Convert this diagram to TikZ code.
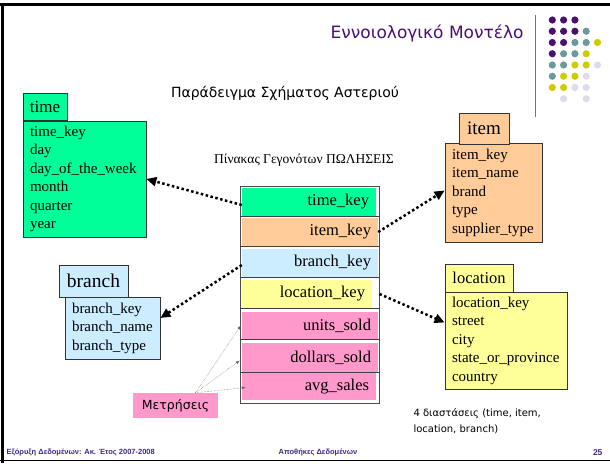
\documentclass[tikz,border=0pt]{standalone}
\usepackage{fontspec}
\setmainfont{Liberation Serif}
\setsansfont{DejaVu Sans}
\newfontfamily\footfont{Liberation Sans}
\usetikzlibrary{arrows.meta}
\definecolor{titlepurple}{HTML}{4B0F73}
\definecolor{footpurple}{HTML}{3F2A7F}
\definecolor{dotpurple}{HTML}{4A1070}
\definecolor{dotteal}{HTML}{6A9A9A}
\definecolor{dotyellow}{HTML}{CCCC00}
\definecolor{dotlilac}{HTML}{DCDCEE}
\definecolor{timegreen}{HTML}{00FF99}
\definecolor{itemorange}{HTML}{FFCC99}
\definecolor{branchblue}{HTML}{CCECFF}
\definecolor{locyellow}{HTML}{FFFF99}
\definecolor{measurepink}{HTML}{FF99CC}
\begin{document}
\begin{tikzpicture}[x=1pt,y=-1pt,
  head/.style={rectangle,draw=black!80,line width=0.8pt,inner sep=0pt,font=\fontsize{18}{20}\selectfont},
  dimbody/.style={rectangle,draw=black!80,line width=0.8pt,inner xsep=7pt,inner ysep=0pt,align=left,font=\fontsize{15}{18.5}\selectfont},
  factrow/.style={rectangle,inner xsep=7pt,inner ysep=0pt,align=right,font=\fontsize{16.5}{18}\selectfont},
  link/.style={line width=2.5pt,dash pattern=on 2.5pt off 2.5pt,-{Triangle[length=10pt,width=9pt]}},
  measure/.style={black!60,line width=0.45pt,densely dotted,-{Latex[length=4pt,width=3pt]}}]
\useasboundingbox (0,0) rectangle (610,463);

% slide frame and logo
\draw[line width=3pt] (0,4.5) -- (610,4.5);
\draw[line width=2.5pt] (2.5,4) -- (2.5,463);
\draw[line width=0.8pt] (0,460.5) -- (610,460.5);
\draw[black!55,line width=1.5pt] (535.5,15) -- (535.5,117);
\foreach \c/\r/\col in {0/0/dotpurple,1/0/dotpurple,2/0/dotpurple,
  0/1/dotpurple,1/1/dotpurple,2/1/dotpurple,3/1/dotteal,
  0/2/dotpurple,1/2/dotpurple,2/2/dotteal,3/2/dotteal,4/2/dotyellow,
  0/3/dotpurple,1/3/dotteal,2/3/dotteal,3/3/dotyellow,
  0/4/dotteal,1/4/dotteal,2/4/dotyellow,3/4/dotyellow,4/4/dotlilac,
  0/5/dotteal,1/5/dotyellow,2/5/dotyellow,3/5/dotlilac,
  0/6/dotyellow,1/6/dotyellow,2/6/dotlilac,3/6/dotlilac,
  1/7/dotlilac,3/7/dotlilac}
  \fill[\col] (552.3+11.3*\c,20+11.25*\r) circle (3.6);

\node[anchor=east,text=titlepurple,font=\sffamily\fontsize{17}{20}\selectfont] (title) at (527,33) {Εννοιολογικό Μοντέλο};
\node[font=\sffamily\fontsize{14}{16}\selectfont] (subtitle) at (285,93) {Παράδειγμα Σχήματος Αστεριού};

% dimension tables
\node[dimbody,fill=timegreen,text width=109pt,minimum height=116pt] (timebody) at (84.5,179)
  {time\_key\\day\\day\_of\_the\_week\\month\\quarter\\year};
\node[head,fill=timegreen,minimum width=44pt,minimum height=27pt,font=\fontsize{17}{20}\selectfont] (timehead) at (45,106.5) {time};

\node[dimbody,fill=itemorange,text width=83pt,minimum height=99pt] (itembody) at (493.5,192.5)
  {item\_key\\item\_name\\brand\\type\\supplier\_type};
\node[head,fill=itemorange,minimum width=50pt,minimum height=31pt,font=\fontsize{19}{21}\selectfont] (itemhead) at (484,128.5) {item};

\node[dimbody,fill=branchblue,text width=81pt,minimum height=62pt] (branchbody) at (112.5,328)
  {branch\_key\\branch\_name\\branch\_type};
\node[head,fill=branchblue,minimum width=69pt,minimum height=32pt,font=\fontsize{19.5}{21}\selectfont] (branchhead) at (93.5,281) {branch};

\node[dimbody,fill=locyellow,text width=108pt,minimum height=97pt] (locationbody) at (506,340.5)
  {location\_key\\street\\city\\state\_or\_province\\country};
\node[head,fill=locyellow,minimum width=68pt,minimum height=28pt,font=\fontsize{16.5}{19}\selectfont] (locationhead) at (479,278) {location};

% fact table
\node[font=\fontsize{13.5}{15}\selectfont] (facttitle) at (304,160) {Πίνακας Γεγονότων ΠΩΛΗΣΕΙΣ};
\node[factrow,fill=timegreen,text width=120pt,minimum height=28pt] (timekey) at (309,202) {time\_key};
\node[factrow,fill=itemorange,text width=122pt,minimum height=28pt] (itemkey) at (310,232) {item\_key};
\node[factrow,fill=branchblue,text width=122pt,minimum height=28pt] (branchkey) at (310,263) {branch\_key};
\node[factrow,fill=locyellow,text width=116pt,minimum height=28pt] (locationkey) at (307,294) {location\_key};
\node[factrow,fill=measurepink,text width=122pt,minimum height=27pt] (unitssold) at (310,325.5) {units\_sold};
\node[factrow,fill=measurepink,text width=122pt,minimum height=29pt] (dollarssold) at (310,357.5) {dollars\_sold};
\node[factrow,fill=measurepink,text width=120pt,minimum height=27pt] (avgsales) at (309,386.5) {avg\_sales};
\node[rectangle,draw=black!70,line width=1pt,minimum width=139pt,minimum height=217pt] (fact) at (309.5,294.5) {};
\foreach \r in {timekey,itemkey,branchkey,locationkey,unitssold,dollarssold}
  \draw[black!75,line width=1.2pt] (\r.south -| fact.west) -- (\r.south -| fact.east);

% foreign keys
\draw[link] ([yshift=-3pt]timekey.west) -- (timebody.east);
\draw[link] (itemkey.east) -- ([yshift=2pt]itembody.west);
\draw[link] ([yshift=-2pt]branchkey.west) -- ([yshift=10pt]branchbody.east);
\draw[link] (fact.east |- locationkey) -- ([yshift=18pt]locationbody.west);

% measures
\node[fill=measurepink,minimum width=85pt,minimum height=25pt,inner sep=0pt,font=\sffamily\fontsize{12.5}{14}\selectfont] (measures) at (175.5,405.5) {Μετρήσεις};
\draw[measure] ([xshift=20pt]measures.north) -- ([xshift=-1pt]unitssold.west);
\draw[measure] ([xshift=20pt]measures.north) -- ([xshift=-2pt,yshift=-3pt]dollarssold.west);
\draw[measure] ([xshift=20pt]measures.north) -- ([xshift=4pt,yshift=-1pt]avgsales.west);

\node[anchor=north west,align=left,font=\sffamily\fontsize{10}{16}\selectfont] (note) at (410,405) {4 διαστάσεις (time, item,\\location, branch)};

% footer
\node[anchor=west,text=footpurple,font=\footfont\bfseries\fontsize{7.5}{9}\selectfont] (footleft) at (3,453) {Εξόρυξη Δεδομένων: Ακ. Έτος 2007-2008};
\node[text=footpurple,font=\footfont\bfseries\fontsize{7.5}{9}\selectfont] (footmid) at (318,453) {Αποθήκες Δεδομένων};
\node[anchor=east,text=footpurple,font=\footfont\bfseries\fontsize{8.5}{10}\selectfont] (footright) at (606,453) {25};
\end{tikzpicture}
\end{document}
